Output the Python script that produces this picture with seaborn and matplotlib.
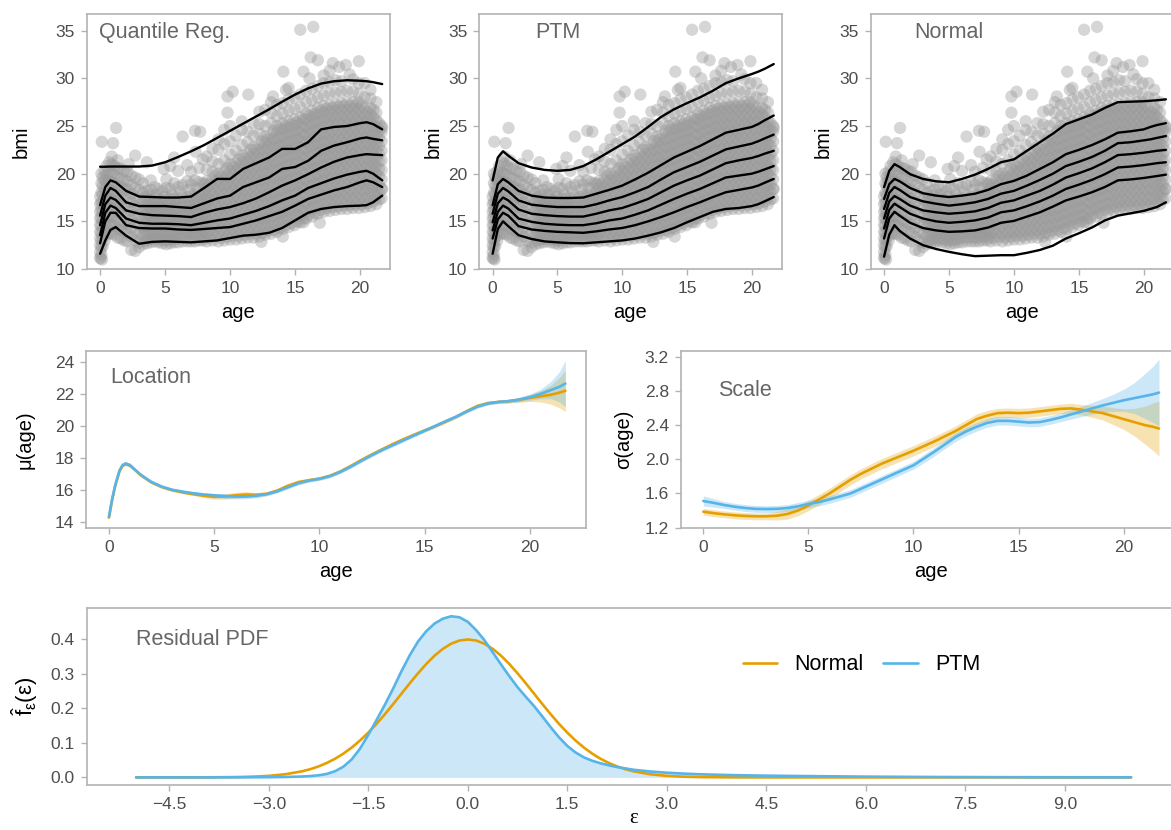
import numpy as np
import matplotlib
matplotlib.use("Agg")
import matplotlib.pyplot as plt
import matplotlib.ticker as mticker
import seaborn as sns

# ---------------- data ----------------
ORANGE = "#E69F00"
BLUE = "#56B4E9"

# scatter (age, bmi) columns
sc_col_age = [0.0, 0.1, 0.2, 0.35, 0.5, 0.7, 0.9, 1.1, 1.35, 1.6, 1.85, 2.1, 2.4, 2.7, 3.0,
              3.3, 3.6, 3.9, 4.2, 4.5, 4.8, 5.1, 5.4, 5.7, 6.0, 6.35, 6.7, 7.0, 7.3, 7.6, 7.9,
              8.2, 8.65, 9.1, 9.55, 10.0, 10.45, 10.9, 11.35, 11.8, 12.25, 12.7, 13.15, 13.6,
              14.05, 14.5, 14.95, 15.4, 15.85, 16.3, 16.75, 17.2, 17.65, 18.1, 18.55, 19.0,
              19.45, 19.9, 20.35, 20.8, 21.25, 21.65]
sc_col_bmi = [
    [11.2, 11.8, 12.5, 13.2, 13.9, 14.6, 15.3, 16.0, 16.8, 17.6],
    [11.5, 12.3, 13.0, 13.8, 14.6, 15.4, 16.2, 17.0, 18.0, 19.0, 20.0],
    [12.4, 13.3, 14.2, 15.1, 16.0, 16.9, 17.8, 18.7, 19.6],
    [13.0, 13.9, 14.8, 15.7, 16.6, 17.5, 18.4, 19.3, 20.2],
    [13.6, 14.5, 15.4, 16.3, 17.2, 18.1, 19.0, 19.9, 20.8],
    [13.8, 14.7, 15.6, 16.5, 17.4, 18.3, 19.2, 20.1, 21.2],
    [13.7, 14.6, 15.5, 16.4, 17.3, 18.2, 19.1, 20.0, 21.0, 21.8],
    [13.6, 14.5, 15.4, 16.3, 17.2, 18.1, 19.0, 19.9, 20.8],
    [13.3, 14.2, 15.1, 16.0, 16.9, 17.8, 18.7, 19.6, 20.6, 21.4],
    [13.2, 14.1, 15.0, 15.9, 16.8, 17.7, 18.6, 19.5, 20.5],
    [13.0, 13.9, 14.8, 15.7, 16.6, 17.5, 18.4, 19.3, 20.3],
    [12.9, 13.8, 14.7, 15.6, 16.5, 17.4, 18.3, 19.2, 20.2],
    [12.0, 13.4, 14.3, 15.2, 16.1, 17.0, 17.9, 18.8, 19.8],
    [11.9, 13.0, 13.9, 14.8, 15.7, 16.6, 17.5, 18.5, 19.6],
    [12.3, 12.8, 13.7, 14.6, 15.5, 16.4, 17.3, 18.3, 19.4],
    [12.6, 13.5, 14.4, 15.3, 16.2, 17.1, 18.0, 19.0],
    [12.7, 13.6, 14.5, 15.4, 16.3, 17.2, 18.2],
    [12.8, 13.7, 14.6, 15.5, 16.4, 17.3, 18.3, 19.3],
    [12.9, 13.8, 14.7, 15.6, 16.5, 17.4, 18.6],
    [12.8, 13.7, 14.6, 15.5, 16.4, 17.3, 18.4],
    [12.7, 13.6, 14.5, 15.4, 16.3, 17.2, 18.2],
    [12.6, 13.5, 14.4, 15.3, 16.2, 17.2, 18.5, 19.4],
    [12.7, 13.6, 14.5, 15.4, 16.3, 17.3, 18.4, 20.8],
    [12.8, 13.7, 14.6, 15.5, 16.4, 17.4, 19.0, 21.7],
    [12.8, 13.7, 14.6, 15.5, 16.4, 17.4, 18.6, 20.3],
    [12.9, 13.8, 14.7, 15.6, 16.5, 17.5, 18.8],
    [12.9, 13.8, 14.7, 15.6, 16.5, 17.6, 19.2, 20.9],
    [12.9, 13.8, 14.7, 15.6, 16.6, 17.7, 18.9, 20.2],
    [12.9, 13.8, 14.7, 15.7, 16.7, 17.8, 19.3],
    [13.0, 13.9, 14.8, 15.8, 16.8, 17.9, 19.1, 20.6],
    [13.0, 13.9, 14.8, 15.8, 16.8, 17.9, 19.0, 21.5],
    [12.9, 13.7, 14.5, 15.3, 16.1, 16.9, 17.7, 18.5, 19.2, 20.4, 21.8],
    [13.0, 13.8, 14.6, 15.4, 16.2, 17.0, 17.8, 18.6, 19.4, 20.2, 21.3, 22.6],
    [12.9, 13.7, 14.5, 15.3, 16.1, 16.9, 17.7, 18.5, 19.3, 20.0, 21.0, 22.5, 23.6],
    [13.0, 13.8, 14.6, 15.4, 16.2, 17.0, 17.8, 18.6, 19.4, 20.2, 21.4, 23.1, 24.6],
    [13.1, 13.9, 14.7, 15.5, 16.3, 17.1, 17.9, 18.7, 19.5, 20.3, 21.0, 22.0, 23.4, 25.0],
    [13.1, 13.9, 14.7, 15.5, 16.3, 17.1, 17.9, 18.7, 19.5, 20.3, 21.1, 22.4, 24.0],
    [13.2, 14.0, 14.8, 15.6, 16.4, 17.2, 18.0, 18.8, 19.6, 20.4, 21.2, 21.9, 23.0, 24.6, 25.5],
    [13.3, 14.1, 14.9, 15.7, 16.5, 17.3, 18.1, 18.9, 19.7, 20.5, 21.3, 22.1, 23.3, 24.4],
    [13.3, 14.1, 14.9, 15.7, 16.5, 17.3, 18.1, 18.9, 19.7, 20.5, 21.3, 22.1, 22.8, 24.0, 25.3],
    [13.4, 14.2, 15.0, 15.8, 16.6, 17.4, 18.2, 19.0, 19.8, 20.6, 21.4, 22.2, 23.0, 24.2, 25.2, 26.5],
    [13.6, 14.4, 15.2, 16.0, 16.8, 17.6, 18.4, 19.2, 20.0, 20.8, 21.6, 22.4, 23.2, 23.9, 25.0, 26.7],
    [13.7, 14.5, 15.3, 16.1, 16.9, 17.7, 18.5, 19.3, 20.1, 20.9, 21.7, 22.5, 23.3, 24.1, 25.3, 26.4, 27.5],
    [13.9, 14.7, 15.5, 16.3, 17.1, 17.9, 18.7, 19.5, 20.3, 21.1, 21.9, 22.7, 23.5, 24.3, 25.0, 26.0, 27.2],
    [13.4, 14.2, 15.0, 15.8, 16.6, 17.4, 18.2, 19.0, 19.8, 20.6, 21.4, 22.2, 23.0, 23.8, 24.6, 25.3, 26.3, 27.4],
    [14.4, 15.2, 16.0, 16.8, 17.6, 18.4, 19.2, 20.0, 20.8, 21.6, 22.4, 23.2, 24.0, 24.8, 25.5, 26.6, 27.8, 29.0],
    [14.6, 15.4, 16.2, 17.0, 17.8, 18.6, 19.4, 20.2, 21.0, 21.8, 22.6, 23.4, 24.2, 25.0, 25.7, 26.8, 28.0],
    [14.9, 15.6, 16.4, 17.2, 18.0, 18.8, 19.6, 20.4, 21.2, 22.0, 22.8, 23.6, 24.4, 25.2, 25.9, 27.0, 28.3],
    [15.3, 16.1, 16.9, 17.7, 18.5, 19.3, 20.1, 20.9, 21.7, 22.5, 23.3, 24.1, 24.9, 25.7, 26.3, 27.5, 28.7],
    [15.5, 16.3, 17.1, 17.9, 18.7, 19.5, 20.3, 21.1, 21.9, 22.7, 23.5, 24.3, 25.1, 25.9, 26.6, 27.7, 28.9],
    [15.8, 16.6, 17.4, 18.2, 19.0, 19.8, 20.6, 21.4, 22.2, 23.0, 23.8, 24.6, 25.4, 26.2, 26.9, 28.0, 29.2],
    [16.0, 16.8, 17.6, 18.4, 19.2, 20.0, 20.8, 21.6, 22.4, 23.2, 24.0, 24.8, 25.6, 26.4, 27.1, 28.2, 29.5, 30.3],
    [16.1, 16.9, 17.7, 18.5, 19.3, 20.1, 20.9, 21.7, 22.5, 23.3, 24.1, 24.9, 25.7, 26.5, 27.2, 28.4, 29.6, 30.8],
    [16.2, 17.0, 17.8, 18.6, 19.4, 20.2, 21.0, 21.8, 22.6, 23.4, 24.2, 25.0, 25.8, 26.6, 27.3, 28.5, 29.8],
    [16.3, 17.1, 17.9, 18.7, 19.5, 20.3, 21.1, 21.9, 22.7, 23.5, 24.3, 25.1, 25.9, 26.7, 27.4, 28.6, 29.7],
    [16.3, 17.1, 17.9, 18.7, 19.5, 20.3, 21.1, 21.9, 22.7, 23.5, 24.3, 25.1, 25.9, 26.7, 27.5, 28.7],
    [16.4, 17.2, 18.0, 18.8, 19.6, 20.4, 21.2, 22.0, 22.8, 23.6, 24.4, 25.2, 26.0, 26.8, 27.5, 28.6, 29.9],
    [16.4, 17.2, 18.0, 18.8, 19.6, 20.4, 21.2, 22.0, 22.8, 23.6, 24.4, 25.2, 26.0, 26.8, 27.5, 28.4, 29.5],
    [16.5, 17.3, 18.1, 18.9, 19.7, 20.5, 21.3, 22.1, 22.9, 23.7, 24.5, 25.3, 26.1, 26.9, 28.0, 29.5],
    [16.6, 17.4, 18.2, 19.0, 19.8, 20.6, 21.4, 22.2, 23.0, 23.8, 24.6, 25.4, 26.2, 26.9, 27.9, 28.8],
    [16.8, 17.6, 18.4, 19.2, 20.0, 20.8, 21.6, 22.4, 23.2, 24.0, 24.8, 25.6, 26.4, 27.5],
    [17.4, 18.4, 19.4, 20.4, 21.4, 22.4, 23.4, 24.4, 25.0],
]
# interleaved columns filling the dense core of the cloud
core_col_age = [3.45, 3.75, 4.05, 4.35, 4.65, 4.95, 5.25, 5.55, 5.85, 6.2, 6.5, 6.85, 7.15, 7.45,
                7.75, 8.05, 8.42, 8.87, 9.32, 9.77, 10.22, 10.67, 11.12, 11.57, 12.02, 12.47,
                12.92, 13.37, 13.82, 14.27, 14.72, 15.17, 15.62, 16.07, 16.52, 16.97, 17.42,
                17.87, 18.32, 18.77, 19.22, 19.67, 20.12, 20.57, 21.02, 21.45]
core_col_bmi = [
    [13.0, 13.9, 14.8, 15.7, 16.6, 17.5],
    [13.1, 14.0, 14.9, 15.8, 16.7, 17.7],
    [13.2, 14.1, 15.0, 15.9, 16.8],
    [13.2, 14.1, 15.0, 15.9, 16.8, 17.8],
    [13.1, 14.0, 14.9, 15.8, 16.7],
    [13.0, 13.9, 14.8, 15.7, 16.6, 17.6],
    [13.0, 13.9, 14.8, 15.7, 16.7],
    [13.1, 14.0, 14.9, 15.8, 16.8, 17.8],
    [13.2, 14.1, 15.0, 15.9, 16.9],
    [13.3, 14.2, 15.1, 16.0, 17.0, 18.1],
    [13.3, 14.2, 15.1, 16.0, 17.0],
    [13.3, 14.2, 15.1, 16.1, 17.1, 18.3],
    [13.3, 14.2, 15.2, 16.2, 17.2],
    [13.4, 14.3, 15.2, 16.2, 17.3, 18.5],
    [13.4, 14.3, 15.3, 16.3, 17.4],
    [13.3, 14.1, 14.9, 15.7, 16.5, 17.3, 18.1, 18.9],
    [13.3, 14.1, 14.9, 15.7, 16.5, 17.3, 18.1, 18.9],
    [13.4, 14.2, 15.0, 15.8, 16.6, 17.4, 18.2, 19.0, 19.8],
    [13.3, 14.1, 14.9, 15.7, 16.5, 17.3, 18.1, 18.9, 19.7],
    [13.4, 14.2, 15.0, 15.8, 16.6, 17.4, 18.2, 19.0, 19.8, 20.6],
    [13.5, 14.3, 15.1, 15.9, 16.7, 17.5, 18.3, 19.1, 19.9, 20.7],
    [13.5, 14.3, 15.1, 15.9, 16.7, 17.5, 18.3, 19.1, 19.9, 20.7, 21.5],
    [13.6, 14.4, 15.2, 16.0, 16.8, 17.6, 18.4, 19.2, 20.0, 20.8, 21.6],
    [13.7, 14.5, 15.3, 16.1, 16.9, 17.7, 18.5, 19.3, 20.1, 20.9, 21.7, 22.5],
    [13.7, 14.5, 15.3, 16.1, 16.9, 17.7, 18.5, 19.3, 20.1, 20.9, 21.7, 22.5],
    [13.8, 14.6, 15.4, 16.2, 17.0, 17.8, 18.6, 19.4, 20.2, 21.0, 21.8, 22.6, 23.4],
    [14.0, 14.8, 15.6, 16.4, 17.2, 18.0, 18.8, 19.6, 20.4, 21.2, 22.0, 22.8, 23.6],
    [14.1, 14.9, 15.7, 16.5, 17.3, 18.1, 18.9, 19.7, 20.5, 21.3, 22.1, 22.9, 23.7, 24.5],
    [14.3, 15.1, 15.9, 16.7, 17.5, 18.3, 19.1, 19.9, 20.7, 21.5, 22.3, 23.1, 23.9, 24.7],
    [14.6, 15.4, 16.2, 17.0, 17.8, 18.6, 19.4, 20.2, 21.0, 21.8, 22.6, 23.4, 24.2, 25.0],
    [14.8, 15.6, 16.4, 17.2, 18.0, 18.8, 19.6, 20.4, 21.2, 22.0, 22.8, 23.6, 24.4, 25.2],
    [15.0, 15.8, 16.6, 17.4, 18.2, 19.0, 19.8, 20.6, 21.4, 22.2, 23.0, 23.8, 24.6, 25.4],
    [15.3, 16.1, 16.9, 17.7, 18.5, 19.3, 20.1, 20.9, 21.7, 22.5, 23.3, 24.1, 24.9, 25.7],
    [15.7, 16.5, 17.3, 18.1, 18.9, 19.7, 20.5, 21.3, 22.1, 22.9, 23.7, 24.5, 25.3, 26.1],
    [15.9, 16.7, 17.5, 18.3, 19.1, 19.9, 20.7, 21.5, 22.3, 23.1, 23.9, 24.7, 25.5, 26.3],
    [16.2, 17.0, 17.8, 18.6, 19.4, 20.2, 21.0, 21.8, 22.6, 23.4, 24.2, 25.0, 25.8, 26.6],
    [16.4, 17.2, 18.0, 18.8, 19.6, 20.4, 21.2, 22.0, 22.8, 23.6, 24.4, 25.2, 26.0, 26.8],
    [16.5, 17.3, 18.1, 18.9, 19.7, 20.5, 21.3, 22.1, 22.9, 23.7, 24.5, 25.3, 26.1, 26.9],
    [16.6, 17.4, 18.2, 19.0, 19.8, 20.6, 21.4, 22.2, 23.0, 23.8, 24.6, 25.4, 26.2, 27.0],
    [16.7, 17.5, 18.3, 19.1, 19.9, 20.7, 21.5, 22.3, 23.1, 23.9, 24.7, 25.5, 26.3, 27.1],
    [16.7, 17.5, 18.3, 19.1, 19.9, 20.7, 21.5, 22.3, 23.1, 23.9, 24.7, 25.5, 26.3, 27.1],
    [16.8, 17.6, 18.4, 19.2, 20.0, 20.8, 21.6, 22.4, 23.2, 24.0, 24.8, 25.6, 26.4, 27.2],
    [16.8, 17.6, 18.4, 19.2, 20.0, 20.8, 21.6, 22.4, 23.2, 24.0, 24.8, 25.6, 26.4, 27.2],
    [16.9, 17.7, 18.5, 19.3, 20.1, 20.9, 21.7, 22.5, 23.3, 24.1, 24.9, 25.7, 26.5],
    [17.1, 17.9, 18.7, 19.5, 20.3, 21.1, 21.9, 22.7, 23.5, 24.3, 25.1, 25.9, 26.7],
    [17.3, 18.1, 18.9, 19.7, 20.5, 21.3, 22.1, 22.9, 23.7, 24.5, 25.3],
]
out_age = [0.13, 1.0, 1.23, 2.7, 2.2, 3.6, 4.9, 6.35, 7.3, 7.7, 7.35, 9.8, 9.8, 10.2, 11.4,
           13.3, 14.1, 14.3, 15.65, 15.4, 16.4, 16.2, 16.75, 16.1, 17.9, 18.4, 18.9, 19.2,
           19.9, 21.7, 12.4, 15.65, 16.9, 21.7, 0.05, 0.15]
out_bmi = [23.35, 23.2, 24.8, 21.9, 21.0, 21.2, 20.5, 23.9, 24.5, 24.4, 22.3, 26.4, 28.1, 28.6, 28.3,
           28.1, 30.7, 28.8, 30.7, 35.1, 35.4, 32.2, 31.9, 30.0, 31.6, 31.2, 31.4, 30.4,
           31.8, 18.4, 12.85, 14.9, 14.85, 24.8, 11.1, 11.0]

# quantile curves
q_age = [0, 0.4, 0.8, 1.2, 2, 3, 4, 5, 6, 7, 8, 9, 10, 11, 12, 13, 14, 15, 16, 17, 18, 19, 20, 20.5, 21, 21.7]
qr_curves = [
    [20.73, 20.73, 20.75, 20.75, 20.75, 20.75, 20.85, 21.2, 21.75, 22.35, 23.0, 23.75, 24.5, 25.25, 26.0, 26.75, 27.55, 28.3, 28.95, 29.45, 29.7, 29.8, 29.75, 29.7, 29.6, 29.4],
    [16.7, 18.6, 19.3, 19.1, 18.2, 17.6, 17.55, 17.5, 17.5, 17.6, 18.5, 19.45, 19.45, 20.5, 21.1, 21.7, 22.6, 22.6, 23.3, 24.65, 24.9, 25.0, 25.3, 25.4, 25.2, 24.65],
    [15.6, 17.7, 18.5, 18.2, 17.0, 16.6, 16.6, 16.6, 16.5, 16.4, 16.9, 17.4, 17.7, 18.6, 19.1, 19.6, 20.5, 20.7, 21.35, 22.4, 22.95, 23.3, 23.7, 23.8, 23.65, 23.5],
    [14.6, 16.8, 17.5, 17.25, 16.15, 15.8, 15.65, 15.6, 15.55, 15.45, 15.9, 16.25, 16.5, 16.9, 17.4, 18.05, 18.75, 19.3, 19.95, 20.65, 21.25, 21.7, 21.95, 22.05, 22.0, 21.95],
    [13.55, 15.9, 16.65, 16.4, 15.3, 14.85, 14.75, 14.75, 14.7, 14.6, 14.85, 15.1, 15.3, 15.7, 16.1, 16.6, 17.2, 17.7, 18.5, 19.0, 19.5, 19.9, 20.2, 20.3, 20.0, 19.3],
    [12.7, 15.0, 15.9, 15.9, 14.6, 14.3, 14.25, 14.25, 14.15, 14.1, 14.2, 14.3, 14.4, 14.75, 15.1, 15.55, 16.0, 16.65, 17.35, 17.8, 18.25, 18.6, 19.1, 19.3, 19.1, 18.6],
    [11.6, 13.0, 14.1, 14.4, 13.5, 12.65, 12.85, 12.9, 12.85, 12.8, 12.9, 13.0, 13.25, 13.5, 13.6, 13.8, 14.3, 15.1, 15.9, 16.3, 16.5, 16.6, 16.65, 16.7, 17.0, 17.7],
]
ptm_curves = [
    [19.3, 21.7, 22.35, 21.9, 21.1, 20.65, 20.4, 20.3, 20.4, 20.8, 21.5, 22.3, 23.1, 23.9, 24.9, 25.95, 26.75, 27.4, 28.0, 28.7, 29.5, 30.0, 30.45, 30.7, 31.0, 31.5],
    [16.7, 18.9, 19.45, 19.1, 18.2, 17.7, 17.5, 17.45, 17.45, 17.5, 17.9, 18.3, 18.75, 19.4, 20.1, 20.9, 21.7, 22.3, 22.9, 23.6, 24.3, 24.6, 24.9, 25.2, 25.6, 26.1],
    [15.8, 17.9, 18.5, 18.15, 17.2, 16.75, 16.6, 16.5, 16.5, 16.5, 16.8, 17.2, 17.55, 18.05, 18.6, 19.4, 20.15, 20.7, 21.25, 21.9, 22.55, 22.85, 23.15, 23.4, 23.7, 24.1],
    [14.9, 16.9, 17.5, 17.2, 16.25, 15.8, 15.65, 15.55, 15.5, 15.5, 15.8, 16.15, 16.4, 16.85, 17.35, 18.05, 18.75, 19.3, 19.8, 20.45, 21.1, 21.4, 21.65, 21.85, 22.1, 22.4],
    [14.05, 16.0, 16.65, 16.35, 15.3, 14.95, 14.75, 14.65, 14.6, 14.6, 14.8, 15.1, 15.3, 15.7, 16.15, 16.75, 17.35, 17.9, 18.4, 19.0, 19.6, 19.8, 20.0, 20.2, 20.45, 20.8],
    [13.2, 15.2, 15.9, 15.6, 14.5, 14.15, 14.0, 13.9, 13.85, 13.8, 13.95, 14.15, 14.3, 14.6, 15.0, 15.45, 15.95, 16.5, 17.0, 17.55, 18.05, 18.3, 18.55, 18.75, 19.05, 19.45],
    [11.6, 14.2, 15.0, 14.5, 13.55, 13.15, 12.9, 12.8, 12.72, 12.7, 12.8, 12.9, 13.0, 13.2, 13.5, 13.85, 14.3, 14.9, 15.45, 16.0, 16.3, 16.4, 16.6, 16.8, 17.1, 17.55],
]
norm_curves = [
    [18.6, 20.3, 21.0, 20.7, 19.95, 19.45, 19.2, 19.1, 19.45, 19.9, 20.5, 21.2, 21.5, 22.4, 23.3, 24.2, 25.2, 25.7, 26.2, 26.9, 27.5, 27.55, 27.6, 27.65, 27.7, 27.8],
    [17.35, 18.9, 19.45, 19.2, 18.5, 17.95, 17.7, 17.55, 17.7, 17.9, 18.3, 18.9, 19.25, 19.8, 20.5, 21.2, 22.05, 22.5, 23.0, 23.6, 24.3, 24.45, 24.65, 24.9, 25.1, 25.3],
    [16.3, 18.0, 18.6, 18.3, 17.55, 17.1, 16.85, 16.65, 16.8, 17.0, 17.35, 17.9, 18.2, 18.75, 19.35, 20.0, 20.8, 21.25, 21.75, 22.4, 23.2, 23.3, 23.5, 23.6, 23.75, 23.95],
    [15.3, 17.1, 17.65, 17.35, 16.65, 16.15, 15.95, 15.8, 15.9, 16.05, 16.4, 16.95, 17.2, 17.7, 18.2, 18.85, 19.6, 20.05, 20.55, 21.2, 21.95, 22.05, 22.2, 22.3, 22.4, 22.5],
    [14.25, 16.2, 16.85, 16.5, 15.8, 15.3, 15.0, 14.85, 14.95, 15.1, 15.4, 15.95, 16.15, 16.6, 17.1, 17.7, 18.4, 18.85, 19.35, 19.95, 20.65, 20.75, 20.9, 21.0, 21.1, 21.2],
    [13.2, 15.3, 16.0, 15.6, 14.85, 14.3, 14.05, 13.9, 13.95, 14.05, 14.35, 14.85, 15.05, 15.5, 15.95, 16.55, 17.2, 17.6, 18.05, 18.6, 19.3, 19.4, 19.55, 19.65, 19.75, 19.9],
    [11.3, 13.6, 14.6, 14.0, 13.2, 12.5, 12.1, 11.8, 11.55, 11.35, 11.4, 11.45, 11.45, 11.7, 12.0, 12.45, 13.2, 13.75, 14.35, 15.1, 15.6, 15.85, 16.1, 16.3, 16.5, 17.0],
]
top_titles = ["Quantile Reg.", "PTM", "Normal"]

# location
loc_age = [0, 0.15, 0.3, 0.5, 0.65, 0.8, 1.0, 1.2, 1.5, 2, 2.5, 3, 3.5, 4, 4.5, 5, 5.5, 6, 6.5, 7,
           7.5, 8, 8.5, 9, 9.5, 10, 10.5, 11, 11.5, 12, 12.5, 13, 13.5, 14, 14.5, 15, 15.5, 16,
           16.5, 17, 17.5, 18, 18.5, 19, 19.5, 20, 20.5, 21, 21.4, 21.68]
loc_ptm = [14.3, 15.4, 16.3, 17.2, 17.55, 17.65, 17.55, 17.3, 16.95, 16.5, 16.2, 16.0, 15.88, 15.78,
           15.7, 15.65, 15.6, 15.57, 15.57, 15.62, 15.72, 15.9, 16.15, 16.4, 16.57, 16.68, 16.85,
           17.12, 17.45, 17.82, 18.17, 18.5, 18.8, 19.1, 19.4, 19.7, 20.0, 20.3, 20.58, 20.9, 21.2,
           21.4, 21.5, 21.55, 21.65, 21.8, 22.0, 22.25, 22.45, 22.65]
loc_norm = [14.25, 15.35, 16.25, 17.15, 17.5, 17.6, 17.5, 17.28, 16.92, 16.47, 16.17, 15.97, 15.83,
            15.72, 15.62, 15.55, 15.57, 15.65, 15.7, 15.68, 15.75, 15.95, 16.25, 16.48, 16.6, 16.7,
            16.88, 17.15, 17.5, 17.87, 18.22, 18.55, 18.87, 19.17, 19.45, 19.72, 19.98, 20.27, 20.58,
            20.93, 21.25, 21.43, 21.5, 21.55, 21.63, 21.75, 21.85, 21.95, 22.08, 22.2]
loc_ptm_hw = [0.08, 0.08, 0.08, 0.08, 0.08, 0.08, 0.08, 0.08, 0.08, 0.08, 0.08, 0.08, 0.08,
              0.08, 0.1, 0.12, 0.15, 0.15, 0.14, 0.12, 0.1, 0.1, 0.1, 0.1, 0.1, 0.1, 0.1, 0.1, 0.1,
              0.1, 0.1, 0.1, 0.1, 0.1, 0.1, 0.1, 0.1, 0.1, 0.1, 0.1, 0.1, 0.1, 0.1, 0.12, 0.15, 0.2,
              0.3, 0.55, 0.95, 1.45]
loc_norm_hw = [0.08, 0.08, 0.08, 0.08, 0.08, 0.08, 0.08, 0.08, 0.08, 0.08, 0.08, 0.08, 0.08,
               0.08, 0.1, 0.15, 0.17, 0.18, 0.18, 0.15, 0.12, 0.1, 0.1, 0.1, 0.1, 0.1, 0.1, 0.1, 0.1,
               0.1, 0.1, 0.1, 0.1, 0.1, 0.1, 0.1, 0.1, 0.1, 0.1, 0.1, 0.1, 0.1, 0.1, 0.12, 0.15, 0.22,
               0.35, 0.6, 0.95, 1.3]

# scale
sc_age = [0, 0.5, 1, 1.5, 2, 2.5, 3, 3.5, 4, 4.5, 5, 5.5, 6, 6.5, 7, 7.5, 8, 8.5, 9, 9.5, 10, 10.5,
          11, 11.5, 12, 12.5, 13, 13.5, 14, 14.5, 15, 15.5, 16, 16.5, 17, 17.5, 18, 18.5, 19, 19.5,
          20, 20.5, 21, 21.4, 21.68]
scale_ptm = [1.512, 1.49, 1.465, 1.445, 1.43, 1.42, 1.418, 1.42, 1.43, 1.45, 1.477, 1.50, 1.53, 1.565,
             1.60, 1.655, 1.71, 1.765, 1.82, 1.875, 1.93, 2.01, 2.09, 2.175, 2.26, 2.325, 2.38, 2.425,
             2.45, 2.45, 2.44, 2.43, 2.435, 2.46, 2.49, 2.525, 2.56, 2.595, 2.63, 2.66, 2.69, 2.715,
             2.74, 2.76, 2.78]
scale_norm = [1.387, 1.37, 1.356, 1.345, 1.337, 1.333, 1.333, 1.34, 1.36, 1.40, 1.46, 1.53, 1.60, 1.68,
              1.76, 1.83, 1.89, 1.95, 2.0, 2.05, 2.10, 2.155, 2.21, 2.27, 2.33, 2.40, 2.47, 2.51, 2.54,
              2.545, 2.54, 2.545, 2.56, 2.575, 2.59, 2.595, 2.58, 2.56, 2.54, 2.505, 2.47, 2.435, 2.40,
              2.38, 2.36]
scale_ptm_hw = [0.06, 0.05, 0.04, 0.04, 0.04, 0.04, 0.04, 0.04, 0.04, 0.045, 0.045, 0.045, 0.045, 0.045,
                0.045, 0.045, 0.045, 0.045, 0.045, 0.045, 0.045, 0.05, 0.05, 0.05, 0.05, 0.05, 0.05, 0.05,
                0.05, 0.05, 0.05, 0.05, 0.05, 0.05, 0.05, 0.055, 0.06, 0.07, 0.08, 0.1, 0.13, 0.18, 0.26,
                0.33, 0.39]
scale_norm_hw = [0.04, 0.04, 0.04, 0.04, 0.04, 0.04, 0.04, 0.05, 0.06, 0.06, 0.06, 0.06, 0.06, 0.06,
                 0.06, 0.06, 0.06, 0.06, 0.06, 0.06, 0.06, 0.06, 0.06, 0.06, 0.06, 0.06, 0.06, 0.06,
                 0.055, 0.055, 0.055, 0.055, 0.055, 0.055, 0.055, 0.06, 0.06, 0.07, 0.08, 0.1, 0.12,
                 0.16, 0.22, 0.28, 0.32]

# residual densities
eps = [-5, -4.5, -4, -3.5, -3.25, -3, -2.75, -2.5, -2.375, -2.25, -2.125, -2, -1.875, -1.75, -1.625,
       -1.5, -1.375, -1.25, -1.125, -1, -0.875, -0.75, -0.625, -0.5, -0.375, -0.25, -0.125, 0,
       0.125, 0.25, 0.375, 0.5, 0.625, 0.75, 0.875, 1, 1.125, 1.25, 1.375, 1.5, 1.625, 1.75, 1.875,
       2, 2.125, 2.25, 2.375, 2.5, 2.75, 3, 3.25, 3.5, 4, 4.5, 5, 6, 7, 8, 9, 10]
dens_norm = [0.0, 0.0, 0.0001, 0.0009, 0.002, 0.0044, 0.0091, 0.0175, 0.0237, 0.0317, 0.0418, 0.054,
             0.0688, 0.0863, 0.1065, 0.1295, 0.1549, 0.1826, 0.2119, 0.242, 0.2721, 0.3011, 0.3282,
             0.3521, 0.3719, 0.3867, 0.3958, 0.3989, 0.3958, 0.3867, 0.3719, 0.3521, 0.3282, 0.3011,
             0.2721, 0.242, 0.2119, 0.1826, 0.1549, 0.1295, 0.1065, 0.0863, 0.0688, 0.054, 0.0418,
             0.0317, 0.0237, 0.0175, 0.0091, 0.0044, 0.002, 0.0009, 0.0001, 0.0, 0.0, 0.0, 0.0, 0.0,
             0.0, 0.0]
dens_ptm = [0.0, 0.0, 0.0, 0.0002, 0.0004, 0.0006, 0.0012, 0.0025, 0.0038, 0.006, 0.010, 0.018, 0.031,
            0.052, 0.083, 0.123, 0.166, 0.21, 0.257, 0.307, 0.353, 0.393, 0.423, 0.445, 0.459, 0.466,
            0.463, 0.45, 0.426, 0.397, 0.362, 0.327, 0.293, 0.261, 0.233, 0.206, 0.176, 0.145, 0.116,
            0.091, 0.072, 0.058, 0.048, 0.041, 0.035, 0.030, 0.026, 0.022, 0.017, 0.0135, 0.011,
            0.009, 0.0065, 0.005, 0.004, 0.0022, 0.0012, 0.0007, 0.0004, 0.0002]

# ---------------- style ----------------
sns.set_theme(style="white")
plt.rcParams["font.family"] = ["Liberation Sans", "DejaVu Sans"]
plt.rcParams["mathtext.fontset"] = "custom"
plt.rcParams["mathtext.rm"] = "Liberation Sans"
plt.rcParams["mathtext.it"] = "Liberation Sans"
plt.rcParams["axes.unicode_minus"] = True

W, H = 1171, 830
fig = plt.figure(figsize=(W / 100, H / 100), dpi=100)
fig.patch.set_facecolor("white")

SPINE = "#B3B3B3"
TICKLAB = "#4D4D4D"
PANEL_TXT = "#666666"
TICK_FS = 12.5
LAB_FS = 14.5
PANEL_FS = 15.5


def px_axes(left, top, right, bottom):
    return fig.add_axes([left / W, 1 - bottom / H, (right - left) / W, (bottom - top) / H])


def fmt1(v, pos=None):
    return ("%.1f" % v).replace("-", "\u2212")


def style(ax):
    for s in ax.spines.values():
        s.set_color(SPINE)
        s.set_linewidth(1.2)
        s.set_visible(True)
    ax.tick_params(direction="out", length=4.5, width=1.0, color=SPINE, bottom=True, left=True,
                   top=False, right=False, labelcolor=TICKLAB, labelsize=TICK_FS, pad=4)
    ax.grid(False)


def labels(ax, xl, yl, xy, yx, xfs=LAB_FS, yfs=LAB_FS, xfam=None):
    if xfam:
        ax.set_xlabel(xl, fontsize=xfs, color="black", family=xfam)
    else:
        ax.set_xlabel(xl, fontsize=xfs, color="black")
    ax.set_ylabel(yl, fontsize=yfs, color="black")
    ax.xaxis.set_label_coords(0.5, xy)
    ax.xaxis.label.set_va("center")
    ax.yaxis.set_label_coords(yx, 0.5)
    ax.yaxis.label.set_va("center")


# flatten scatter columns
s_x, s_y = [], []
for a, col in list(zip(sc_col_age, sc_col_bmi)) + list(zip(core_col_age, core_col_bmi)):
    s_x.extend([a] * len(col))
    s_y.extend(col)
s_x.extend(out_age)
s_y.extend(out_bmi)

top_boxes = [(86.7, 14, 390, 269.5), (479.3, 14, 781.5, 269.5), (870.7, 14, 1173.7, 269.5)]
ylab_x = [-0.2176, -0.154, -0.157]
for i, (box, curves, title) in enumerate(zip(top_boxes, [qr_curves, ptm_curves, norm_curves], top_titles)):
    ax = px_axes(*box)
    sns.scatterplot(x=s_x, y=s_y, ax=ax, color="#999999", alpha=0.4, s=78, linewidth=0,
                    edgecolor="none", legend=False)
    for c in curves:
        sns.lineplot(x=q_age, y=c, ax=ax, color="black", linewidth=1.7, estimator=None,
                     sort=False, legend=False)
    ax.set_xlim(-1.03, 22.3)
    ax.set_ylim(9.95, 36.75)
    ax.set_xticks([0, 5, 10, 15, 20])
    ax.set_yticks([10, 15, 20, 25, 30, 35])
    labels(ax, "age", "bmi", -0.17, ylab_x[i])
    ax.text(5, 34.8, title, ha="center", va="center", color=PANEL_TXT, fontsize=PANEL_FS)
    style(ax)

# location
ax = px_axes(86, 350.7, 586, 527.7)
ln = np.array(loc_norm); lp = np.array(loc_ptm)
ax.fill_between(loc_age, ln - np.array(loc_norm_hw), ln + np.array(loc_norm_hw), color=ORANGE, alpha=0.3, lw=0)
ax.fill_between(loc_age, lp - np.array(loc_ptm_hw), lp + np.array(loc_ptm_hw), color=BLUE, alpha=0.3, lw=0)
sns.lineplot(x=loc_age, y=loc_norm, ax=ax, color=ORANGE, linewidth=1.9, estimator=None, sort=False, legend=False)
sns.lineplot(x=loc_age, y=loc_ptm, ax=ax, color=BLUE, linewidth=1.9, estimator=None, sort=False, legend=False)
ax.set_xlim(-1.09, 22.66)
ax.set_ylim(13.62, 24.71)
ax.set_xticks([0, 5, 10, 15, 20])
ax.set_yticks([14, 16, 18, 20, 22, 24])
labels(ax, "age", "μ(age)", -0.245, -0.122)
ax.text(2, 23, "Location", ha="center", va="center", color=PANEL_TXT, fontsize=PANEL_FS)
style(ax)

# scale
ax = px_axes(680.7, 350.7, 1181.7, 527.7)
sn = np.array(scale_norm); sp = np.array(scale_ptm)
ax.fill_between(sc_age, sn - np.array(scale_norm_hw), sn + np.array(scale_norm_hw), color=ORANGE, alpha=0.3, lw=0)
ax.fill_between(sc_age, sp - np.array(scale_ptm_hw), sp + np.array(scale_ptm_hw), color=BLUE, alpha=0.3, lw=0)
sns.lineplot(x=sc_age, y=scale_norm, ax=ax, color=ORANGE, linewidth=1.9, estimator=None, sort=False, legend=False)
sns.lineplot(x=sc_age, y=scale_ptm, ax=ax, color=BLUE, linewidth=1.9, estimator=None, sort=False, legend=False)
ax.set_xlim(-1.075, 22.76)
ax.set_ylim(1.2, 3.27)
ax.set_xticks([0, 5, 10, 15, 20])
ax.set_yticks([1.2, 1.6, 2.0, 2.4, 2.8, 3.2])
ax.yaxis.set_major_formatter(mticker.FuncFormatter(fmt1))
labels(ax, "age", "σ(age)", -0.245, -0.1146)
ax.text(2, 2.8, "Scale", ha="center", va="center", color=PANEL_TXT, fontsize=PANEL_FS)
style(ax)

# residual pdf
ax = px_axes(86.7, 608.3, 1181.2, 785)
ax.fill_between(eps, 0, dens_ptm, color=BLUE, alpha=0.3, lw=0)
sns.lineplot(x=eps, y=dens_norm, ax=ax, color=ORANGE, linewidth=1.9, estimator=None, sort=False, label="Normal")
sns.lineplot(x=eps, y=dens_ptm, ax=ax, color=BLUE, linewidth=1.9, estimator=None, sort=False, label="PTM")
ax.set_xlim(-5.745, 10.755)
ax.set_ylim(-0.022, 0.489)
ax.set_xticks([-4.5, -3.0, -1.5, 0.0, 1.5, 3.0, 4.5, 6.0, 7.5, 9.0])
ax.set_yticks([0.0, 0.1, 0.2, 0.3, 0.4])
ax.xaxis.set_major_formatter(mticker.FuncFormatter(fmt1))
ax.yaxis.set_major_formatter(mticker.FuncFormatter(fmt1))
labels(ax, "ε", r"$\hat{\mathrm{f}}_{\varepsilon}(\varepsilon)$", -0.19, -0.0564,
       xfs=15, yfs=16, xfam=["Liberation Serif", "DejaVu Serif"])
ax.text(-4.0, 0.4, "Residual PDF", ha="center", va="center", color=PANEL_TXT, fontsize=PANEL_FS)
leg = ax.legend(loc="center left", bbox_to_anchor=((743 - 86.7) / 1094.5, (785 - 665) / 176.7),
                ncol=2, frameon=False, fontsize=15.5, handlelength=1.6, handletextpad=0.8,
                columnspacing=0.9, borderpad=0, borderaxespad=0)
for t in leg.get_texts():
    t.set_color("black")
style(ax)

fig.savefig("out.png", dpi=100)
